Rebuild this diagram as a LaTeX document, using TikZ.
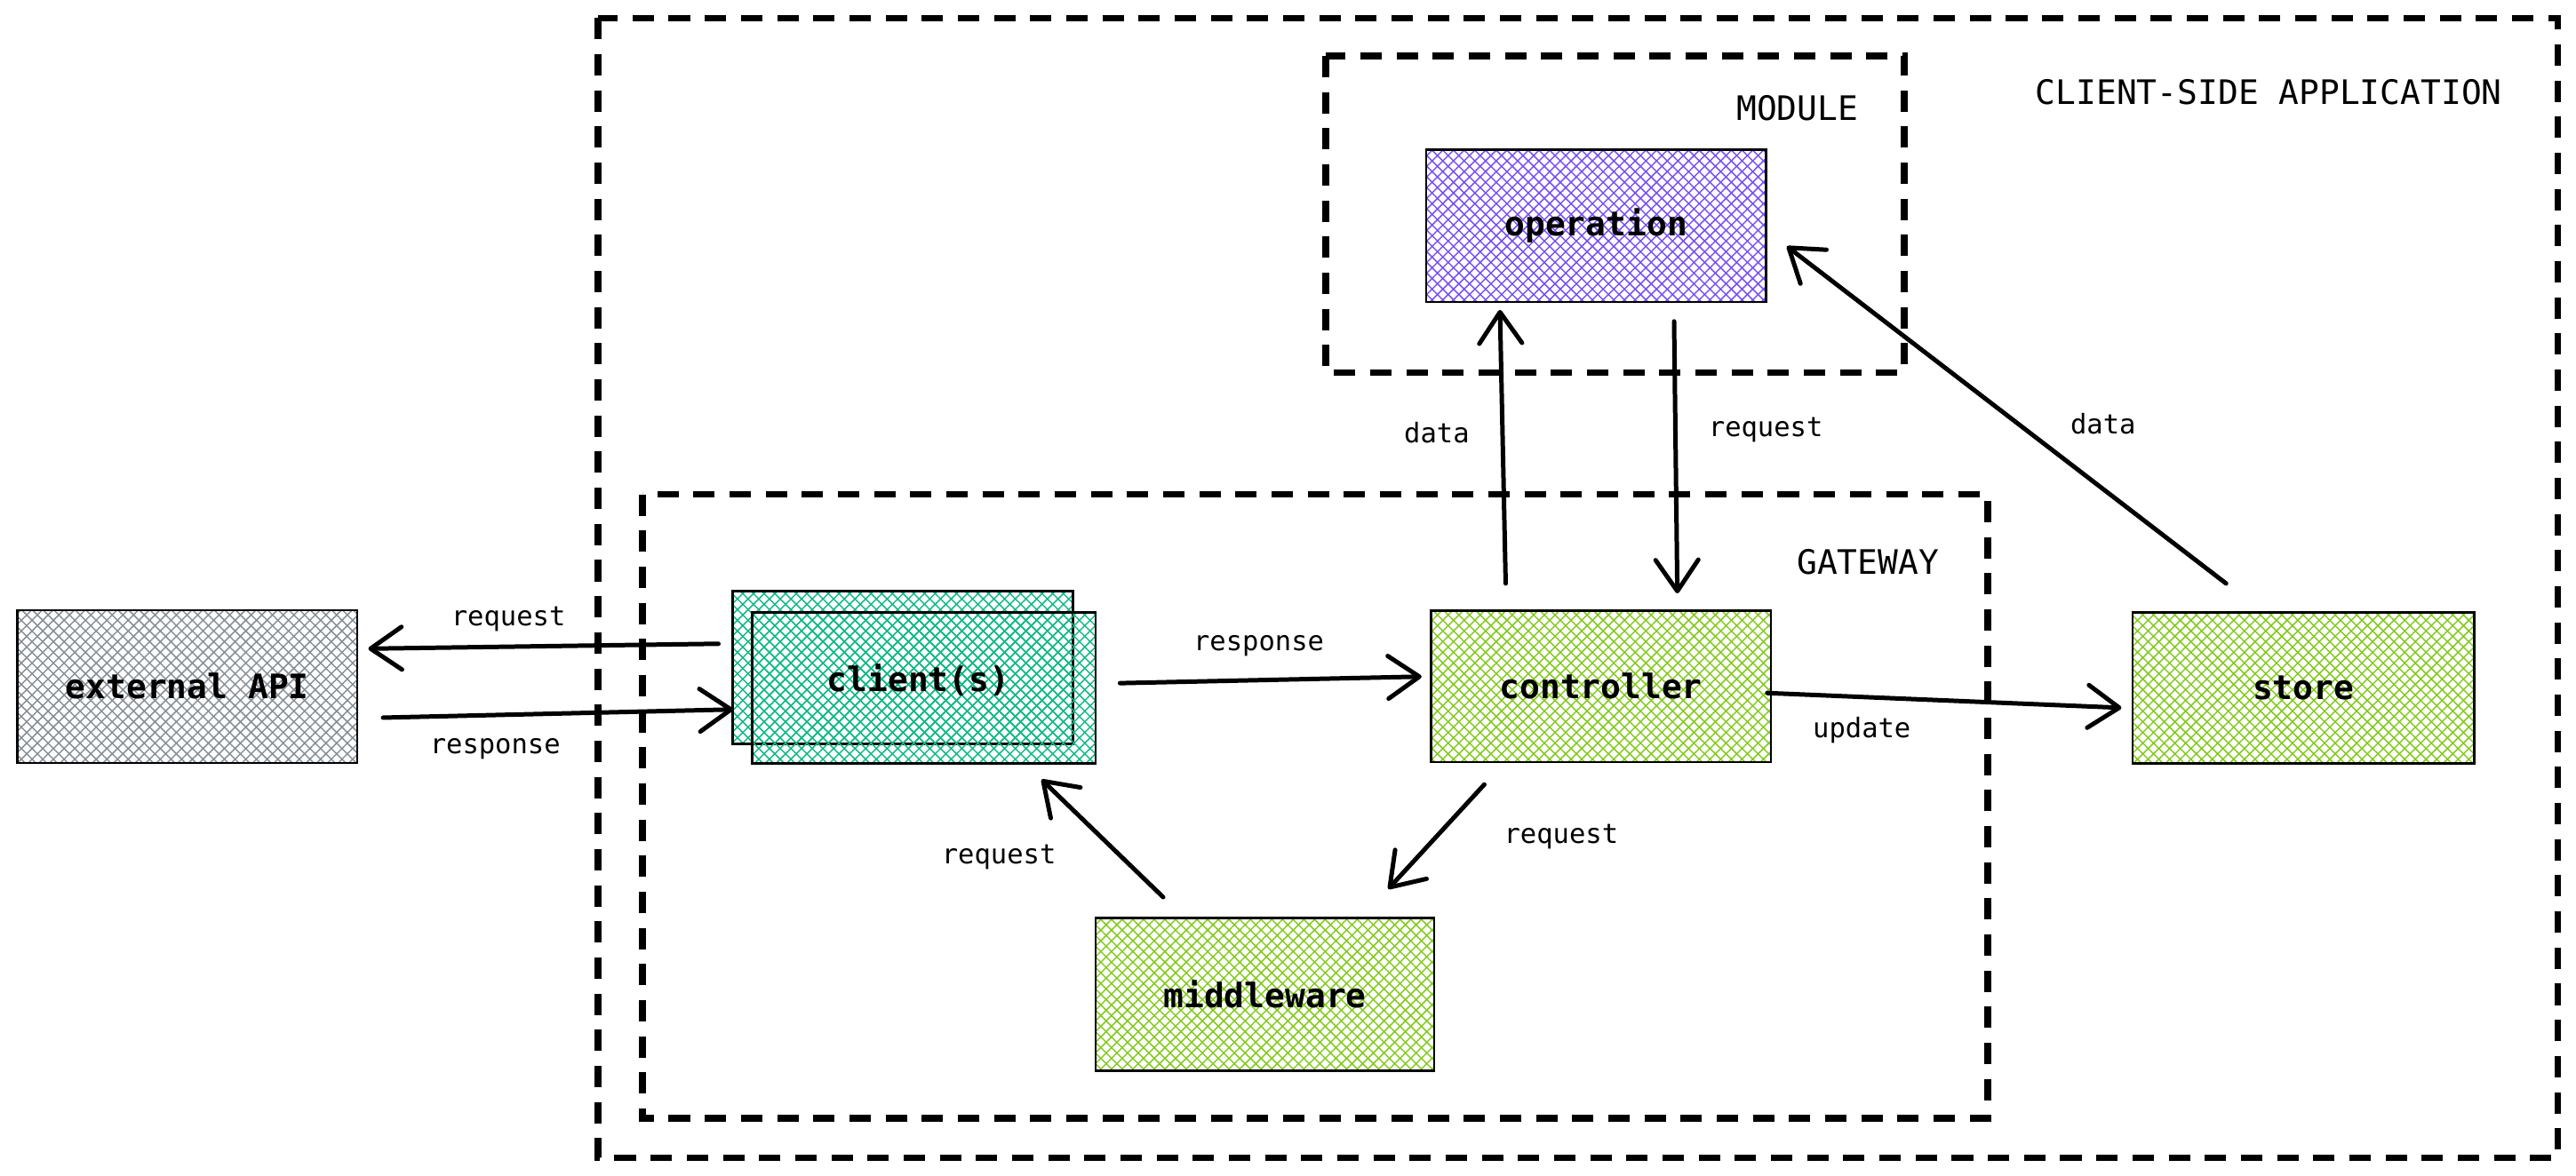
\documentclass[tikz,border=0pt]{standalone}
\usepackage{fontspec}
\newfontfamily\monof{DejaVu Sans Mono}
\usetikzlibrary{arrows.meta,patterns.meta}
\definecolor{hgray}{HTML}{868E96}
\definecolor{hteal}{HTML}{12B886}
\definecolor{hviolet}{HTML}{7950F2}
\definecolor{hlime}{HTML}{82C91E}
\tikzset{
  hatch/.style={
    preaction={pattern={Lines[angle=45,distance=4.6pt,line width=0.8pt]},pattern color=#1},
    preaction={pattern={Lines[angle=-45,distance=4.6pt,line width=0.8pt]},pattern color=#1}},
  boxnode/.style={draw=black,line width=1.4pt,minimum width=207pt,minimum height=93pt,inner sep=0pt,
    font=\fontsize{20.5}{24}\selectfont\monof\bfseries},
  grp/.style={draw=black,line width=4pt,dash pattern=on 13pt off 9pt},
  grplbl/.style={font=\fontsize{20.5}{24}\selectfont\monof,inner sep=0pt},
  lbl/.style={font=\fontsize{16.5}{20}\selectfont\monof,inner sep=0pt},
  arr/.style={draw=black,line width=2.7pt,line cap=round,
    -{Straight Barb[length=19pt,width=26pt,line width=2.7pt,round]}}
}
\begin{document}
\begin{tikzpicture}[x=1pt,y=-1pt]
\useasboundingbox (0,0) rectangle (1568,716);
% group frames
\draw[grp] (364,11) rectangle (1557,705);
\draw[grp] (807,34) rectangle (1159,227);
\draw[grp] (391,301) rectangle (1210,681);
\node[grplbl] (lclient) at (1381,56) {CLIENT-SIDE APPLICATION};
\node[grplbl] (lmodule) at (1094,66) {MODULE};
\node[grplbl] (lgateway) at (1137,342) {GATEWAY};
% boxes
\node[boxnode,hatch=hgray] (ext) at (114,418) {external API};
\node[boxnode,hatch=hteal] (cb) at (549.5,406.5) {};
\node[boxnode,hatch=hteal,minimum width=209pt,minimum height=92pt] (cf) at (562.5,419) {};
\node[font=\fontsize{20.5}{24}\selectfont\monof\bfseries,inner sep=0pt] (ctext) at (559,414) {client(s)};
\node[boxnode,hatch=hviolet] (op) at (971.5,137.5) {operation};
\node[boxnode,hatch=hlime,minimum height=92pt] (ctrl) at (974.5,418) {controller};
\node[boxnode,hatch=hlime,minimum width=208pt,minimum height=92pt] (store) at (1402,419) {store};
\node[boxnode,hatch=hlime,minimum width=206pt] (mw) at (770,605.5) {middleware};
% connectors
\draw[arr] ([xshift=-8pt,yshift=14.5pt]cb.west) -- ([xshift=6pt,yshift=23pt]ext.east)
  node[lbl,pos=0.6,yshift=17pt] (l1) {request};
\draw[arr] ([xshift=15pt,yshift=-19pt]ext.east) -- ([xshift=1pt,yshift=-25.5pt]cb.west)
  node[lbl,pos=0.32,yshift=-20.5pt] (l2) {response};
\draw[arr] ([xshift=14pt,yshift=3pt]cf.east) -- ([xshift=-5pt,yshift=6pt]ctrl.west)
  node[lbl,pos=0.46,yshift=21pt] (l3) {response};
\draw[arr] ([xshift=-3pt,yshift=-4pt]ctrl.east) -- ([xshift=-6pt,yshift=-12pt]store.west)
  node[lbl,pos=0.267,yshift=-20pt] (l4) {update};
\draw[arr] ([xshift=-71pt,yshift=-13pt]ctrl.south) -- ([xshift=75pt,yshift=17pt]mw.north)
  node[lbl,pos=0.5,xshift=76pt] (l5) {request};
\draw[arr] ([xshift=-62pt,yshift=12pt]mw.north) -- ([xshift=71.5pt,yshift=-9pt]cf.south)
  node[lbl,pos=0.5,xshift=-63pt,yshift=-11.5pt] (l6) {request};
\draw[arr] ([xshift=-58pt,yshift=16pt]ctrl.north) -- ([xshift=-58.5pt,yshift=-4pt]op.south)
  node[lbl,pos=0.55,xshift=-40pt] (l7) {data};
\draw[arr] ([xshift=47.5pt,yshift=-11pt]op.south) -- ([xshift=46.5pt,yshift=10pt]ctrl.north)
  node[lbl,pos=0.4,xshift=55pt] (l8) {request};
\draw[arr] ([xshift=-47pt,yshift=17pt]store.north) -- ([xshift=12pt,yshift=-12.5pt]op.east)
  node[lbl,pos=0.28,yshift=40pt] (l9) {data};
\end{tikzpicture}
\end{document}
